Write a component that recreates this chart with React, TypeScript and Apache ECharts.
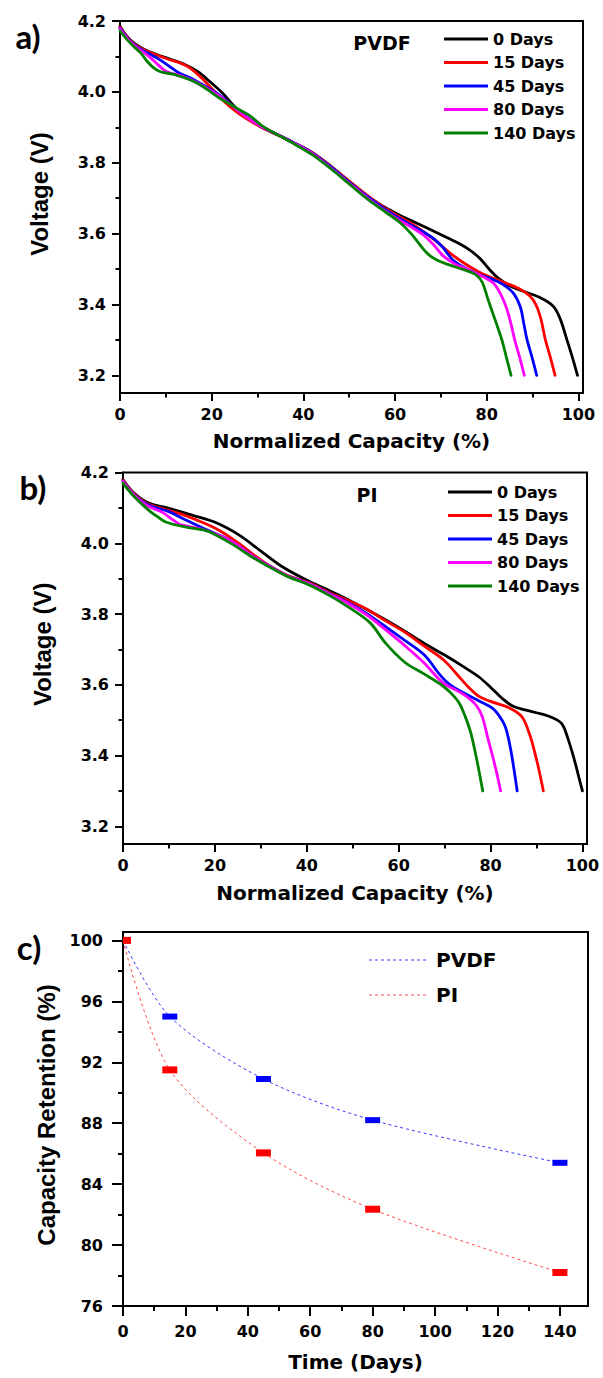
import React, { useEffect, useRef } from "react";
import * as echarts from "echarts";

type Pt = [number, number];

const dayNames = ["0 Days", "15 Days", "45 Days", "80 Days", "140 Days"];
const curveColors = ["#000000", "#ff0000", "#0000ff", "#ff00ff", "#008000"];

// Panel a: PVDF, normalized capacity (%) vs voltage (V)
const pvdf0Days: Pt[] = [[0,4.185],[1.5,4.157],[3,4.138],[5,4.122],[8,4.105],[11,4.092],[14,4.078],[17,4.057],[19.5,4.03],[22.4,3.996],[24.5,3.965],[27,3.933],[30,3.907],[33,3.887],[37,3.862],[41,3.836],[45,3.8],[49,3.758],[53,3.715],[57,3.68],[61,3.652],[65,3.628],[69,3.603],[73,3.578],[76,3.556],[78.5,3.53],[80.5,3.5],[82.5,3.474],[85,3.453],[88,3.437],[91.5,3.42],[94.5,3.395],[96,3.36],[97.5,3.3],[98.7,3.25],[99.8,3.2]];
const pvdf15Days: Pt[] = [[0,4.183],[1.5,4.156],[3,4.136],[5,4.12],[8,4.104],[11,4.09],[13,4.082],[15,4.07],[17.5,4.043],[20.5,4.003],[22.5,3.976],[25,3.948],[28,3.921],[31,3.899],[34,3.881],[38,3.856],[42,3.828],[46,3.79],[50,3.748],[54,3.707],[58,3.67],[62,3.64],[65.5,3.612],[69,3.578],[72,3.545],[75,3.517],[78,3.494],[81,3.476],[84,3.461],[87,3.445],[89.3,3.425],[90.7,3.4],[91.8,3.36],[92.8,3.3],[93.9,3.25],[94.9,3.2]];
const pvdf45Days: Pt[] = [[0,4.18],[1.5,4.154],[3,4.134],[5,4.117],[7,4.103],[9,4.088],[11,4.07],[12.5,4.056],[14,4.047],[16,4.035],[19,4.013],[21.5,3.993],[25,3.956],[28,3.926],[31,3.901],[34,3.882],[38,3.856],[42,3.827],[46,3.788],[50,3.745],[54,3.704],[58,3.667],[62,3.635],[66,3.606],[68.5,3.585],[70.5,3.56],[72.5,3.527],[75,3.505],[78,3.486],[81,3.472],[83.5,3.457],[85.8,3.432],[87.3,3.394],[88.1,3.345],[88.8,3.3],[89.9,3.25],[90.9,3.2]];
const pvdf80Days: Pt[] = [[0,4.178],[1.5,4.152],[3,4.132],[5,4.113],[6.5,4.098],[8,4.08],[9.5,4.063],[11,4.053],[13,4.047],[16,4.031],[19,4.01],[21.5,3.99],[25,3.955],[28,3.925],[31,3.901],[34,3.882],[38,3.855],[42,3.825],[46,3.785],[50,3.742],[54,3.7],[58,3.662],[62,3.63],[66,3.598],[68.5,3.567],[70.5,3.537],[73,3.515],[76,3.498],[79.2,3.478],[81.5,3.46],[83,3.43],[84.2,3.394],[85.2,3.35],[86.1,3.3],[87.2,3.25],[88.2,3.2]];
const pvdf140Days: Pt[] = [[0,4.172],[1.5,4.148],[3,4.128],[4.5,4.11],[6,4.085],[7.5,4.066],[9,4.056],[11.5,4.05],[14,4.04],[16,4.03],[18,4.016],[20,3.998],[22,3.98],[24.3,3.963],[26.5,3.946],[28.5,3.931],[31,3.904],[34,3.882],[38,3.853],[42,3.822],[46,3.783],[50,3.74],[54,3.697],[58,3.66],[61,3.632],[63.5,3.6],[65.5,3.567],[67.2,3.542],[69,3.526],[71.5,3.513],[74.5,3.5],[77.5,3.485],[79,3.463],[80.3,3.413],[82,3.35],[83.3,3.3],[84.3,3.25],[85.3,3.2]];

// Panel b: PI
const pi0Days: Pt[] = [[0,4.18],[2,4.147],[5.2,4.116],[10.2,4.098],[15.2,4.079],[20.3,4.058],[25.3,4.023],[30.3,3.975],[34.5,3.935],[40.4,3.893],[45,3.866],[48.8,3.842],[53,3.813],[57.2,3.783],[61.4,3.751],[65.6,3.717],[70,3.684],[74,3.652],[77.5,3.622],[80,3.593],[82.5,3.562],[84.8,3.54],[87.5,3.529],[91,3.518],[93.5,3.507],[95.5,3.49],[96.8,3.45],[98.2,3.39],[99.2,3.34],[100,3.3]];
const pi15Days: Pt[] = [[0,4.178],[2,4.145],[5,4.114],[8.5,4.098],[12,4.085],[15.2,4.07],[20.3,4.041],[25.3,3.999],[29,3.962],[32,3.936],[36,3.908],[40.4,3.889],[45,3.86],[49,3.838],[52.9,3.815],[57,3.782],[61.4,3.748],[65.5,3.71],[69.8,3.67],[73,3.625],[75,3.596],[77.4,3.568],[80,3.553],[84,3.535],[86.8,3.51],[88.5,3.46],[89.8,3.4],[90.7,3.35],[91.5,3.3]];
const pi45Days: Pt[] = [[0,4.176],[2,4.143],[5,4.112],[10.2,4.088],[13,4.07],[16.9,4.046],[20,4.028],[23.6,4.006],[28,3.966],[32,3.935],[36,3.907],[40.4,3.887],[45,3.857],[49,3.832],[53,3.802],[57.2,3.764],[61.4,3.725],[65.6,3.684],[69,3.628],[71,3.602],[74,3.578],[77.4,3.555],[80.4,3.534],[82,3.51],[83.2,3.482],[84.2,3.43],[85,3.37],[85.8,3.3]];
const pi80Days: Pt[] = [[0,4.175],[2,4.142],[5,4.108],[8.5,4.088],[11,4.065],[12.7,4.052],[16.9,4.041],[20,4.027],[23.6,4.006],[28,3.966],[32,3.935],[36,3.907],[40.4,3.886],[45,3.856],[49,3.83],[53,3.798],[57.2,3.755],[61.4,3.71],[65.6,3.661],[69.5,3.607],[72.5,3.585],[75,3.565],[77,3.54],[78.2,3.51],[79.5,3.445],[81,3.37],[82.2,3.3]];
const pi140Days: Pt[] = [[0,4.17],[2,4.138],[5.2,4.098],[7.5,4.075],[9.3,4.06],[13.5,4.046],[17.7,4.037],[20,4.025],[23.6,3.999],[28,3.962],[32,3.932],[36,3.905],[40.4,3.883],[45,3.852],[49,3.82],[53.8,3.775],[57.2,3.717],[61.4,3.663],[65.6,3.63],[69.5,3.598],[71.5,3.575],[73.2,3.548],[74.5,3.51],[75.7,3.464],[77,3.389],[78.3,3.3]];

// Panel c: capacity retention
const retentionDays = [0, 15, 45, 80, 140];
const pvdfRetention = [100, 95.0, 90.9, 88.2, 85.4];
const piRetention = [100, 91.5, 86.05, 82.35, 78.2];

// Tick values
const capacityTicks = [0, 20, 40, 60, 80, 100];
const capacityMinor = [10, 30, 50, 70, 90];
const voltageTicks = [3.2, 3.4, 3.6, 3.8, 4.0, 4.2];
const voltageMinor = [3.3, 3.5, 3.7, 3.9, 4.1];
const dayTicks = [0, 20, 40, 60, 80, 100, 120, 140];
const dayMinor = [10, 30, 50, 70, 90, 110, 130];
const retentionTicks = [76, 80, 84, 88, 92, 96, 100];
const retentionMinor = [78, 82, 86, 90, 94, 98];

const BLACK = "#000000";
const TXT = "DejaVu Sans";
const ARIAL = "Liberation Sans, Arial, sans-serif";

function xMain(gridIndex: number, max: number, ticks: number[], name: string, nameGap: number, margin: number, tickLen: number) {
  return {
    type: "value", gridIndex, position: "bottom", min: 0, max,
    name, nameLocation: "middle", nameGap,
    nameTextStyle: { fontFamily: TXT, fontWeight: "bold", fontSize: 20, color: BLACK },
    axisLine: { show: true, onZero: false, lineStyle: { color: BLACK, width: 2 } },
    axisTick: { show: true, inside: false, length: tickLen, customValues: ticks, lineStyle: { color: BLACK, width: 2 } },
    axisLabel: { show: true, customValues: ticks, margin, fontFamily: TXT, fontWeight: "bold", fontSize: 16, color: BLACK },
    splitLine: { show: false },
  };
}
function xMinor(gridIndex: number, max: number, ticks: number[], tickLen: number) {
  return {
    type: "value", gridIndex, position: "bottom", min: 0, max,
    axisLine: { show: false, onZero: false },
    axisTick: { show: true, inside: false, length: tickLen, customValues: ticks, lineStyle: { color: BLACK, width: 2 } },
    axisLabel: { show: false }, splitLine: { show: false },
  };
}
function yMain(gridIndex: number, min: number, max: number, ticks: number[], name: string, nameGap: number, margin: number, tickLen: number, decimals: number, shift: number) {
  return {
    type: "value", gridIndex, position: "left", min, max,
    name, nameLocation: "middle", nameGap,
    nameTextStyle: { fontFamily: ARIAL, fontWeight: "bold", fontSize: 24, color: BLACK, padding: [0, 0, 0, shift] },
    axisLine: { show: true, onZero: false, lineStyle: { color: BLACK, width: 2 } },
    axisTick: { show: true, inside: false, length: tickLen, customValues: ticks, lineStyle: { color: BLACK, width: 2 } },
    axisLabel: { show: true, customValues: ticks, margin, fontFamily: TXT, fontWeight: "bold", fontSize: 16, color: BLACK, formatter: (v: number) => v.toFixed(decimals) },
    splitLine: { show: false },
  };
}
function yMinor(gridIndex: number, min: number, max: number, ticks: number[], tickLen: number) {
  return {
    type: "value", gridIndex, position: "left", min, max,
    axisLine: { show: false, onZero: false },
    axisTick: { show: true, inside: false, length: tickLen, customValues: ticks, lineStyle: { color: BLACK, width: 2 } },
    axisLabel: { show: false }, splitLine: { show: false },
  };
}

function curve(name: string, data: Pt[], color: string, axisIndex: number) {
  return {
    type: "line", name, data, xAxisIndex: axisIndex, yAxisIndex: axisIndex,
    showSymbol: false, symbol: "none", smooth: 0.35,
    lineStyle: { color, width: 2.8, cap: "round", join: "round" }, itemStyle: { color }, z: 3,
  };
}

function retentionSeries(name: string, values: number[], color: string, lineColor: string, size: number[]) {
  return {
    type: "line", name, xAxisIndex: 4, yAxisIndex: 4,
    data: retentionDays.map((d, i) => (i === 0 ? { value: [d, values[i]], symbolSize: [8, size[1]], symbolOffset: [4, 0] } : { value: [d, values[i]] })),
    smooth: 0.3, symbol: "rect", symbolSize: size, showSymbol: true,
    lineStyle: { color: lineColor, width: 1, type: [3, 3] },
    itemStyle: { color }, z: 3,
  };
}

const legendBase = (left: number, top: number) => ({
  orient: "vertical", left, top, padding: 0, itemWidth: 44, itemHeight: 3, itemGap: 5.5,
  icon: "rect", selectedMode: false, data: dayNames,
  textStyle: { fontFamily: TXT, fontWeight: "bold", fontSize: 16, color: BLACK, lineHeight: 18 },
});

export default function App() {
  const ref = useRef<HTMLDivElement>(null);
  useEffect(() => {
    if (!ref.current) return;
    const chart = echarts.init(ref.current, undefined, { renderer: "svg" });
    const gridStyle = { show: true, borderColor: BLACK, borderWidth: 2, backgroundColor: "transparent", containLabel: false };
    const pvdfSets = [pvdf0Days, pvdf15Days, pvdf45Days, pvdf80Days, pvdf140Days];
    const piSets = [pi0Days, pi15Days, pi45Days, pi80Days, pi140Days];
    const labelStyle = (text: string, size: number, family: string, align = "center") => ({
      text, fontFamily: family, fontWeight: "bold", fontSize: size, fill: BLACK, align, verticalAlign: "middle",
    });
    const option: any = {
      animation: false,
      backgroundColor: "#ffffff",
      grid: [
        { ...gridStyle, left: 120, top: 21, width: 463, height: 372 },
        { ...gridStyle, left: 123, top: 472.5, width: 464, height: 371.5 },
        { ...gridStyle, left: 123, top: 932, width: 465, height: 374 },
      ],
      xAxis: [
        xMain(0, 101, capacityTicks, "Normalized Capacity (%)", 38, 13, 8),
        xMinor(0, 101, capacityMinor, 4.5),
        xMain(1, 101, capacityTicks, "Normalized Capacity (%)", 39, 13, 8),
        xMinor(1, 101, capacityMinor, 4.5),
        xMain(2, 149, dayTicks, "Time (Days)", 46, 17, 10),
        xMinor(2, 149, dayMinor, 5),
      ],
      yAxis: [
        yMain(0, 3.15, 4.2, voltageTicks, "Voltage (V)", 69, 14, 8, 1, 26),
        yMinor(0, 3.15, 4.2, voltageMinor, 4.5),
        yMain(1, 3.15, 4.2, voltageTicks, "Voltage (V)", 69, 14, 8, 1, 28),
        yMinor(1, 3.15, 4.2, voltageMinor, 4.5),
        yMain(2, 76, 100.55, retentionTicks, "Capacity Retention (%)", 64, 20, 11, 0, 8),
        yMinor(2, 76, 100.55, retentionMinor, 5),
      ],
      legend: [legendBase(444, 30), legendBase(448, 483)],
      series: [
        ...pvdfSets.map((d, i) => curve(dayNames[i], d, curveColors[i], 0)),
        ...piSets.map((d, i) => curve(dayNames[i], d, curveColors[i], 2)),
        retentionSeries("PVDF", pvdfRetention, "#0000ff", "#3a3aff", [15, 6]),
        retentionSeries("PI", piRetention, "#ff0000", "#ff4d4d", [15, 7]),
      ],
      graphic: [
        { type: "text", x: 28, y: 36, style: labelStyle("a)", 33, "Lato") },
        { type: "text", x: 33, y: 487, style: labelStyle("b)", 33, "Lato") },
        { type: "text", x: 29, y: 947, style: labelStyle("c)", 33, "Lato") },
        { type: "text", x: 382, y: 43, style: labelStyle("PVDF", 19, TXT) },
        { type: "text", x: 367, y: 495, style: labelStyle("PI", 19, TXT) },
        { type: "line", shape: { x1: 369, y1: 960, x2: 427, y2: 960 }, style: { stroke: "#3a3aff", lineWidth: 1, lineDash: [3, 3] } },
        { type: "text", x: 436, y: 960, style: labelStyle("PVDF", 20, TXT, "left") },
        { type: "line", shape: { x1: 369, y1: 995, x2: 427, y2: 995 }, style: { stroke: "#ff4d4d", lineWidth: 1, lineDash: [3, 3] } },
        { type: "text", x: 436, y: 995, style: labelStyle("PI", 20, TXT, "left") },
      ],
    };
    chart.setOption(option);
    return () => chart.dispose();
  }, []);
  return <div ref={ref} style={{ position: "absolute", left: 0, top: 0, width: 603, height: 1378, background: "#fff" }} />;
}
